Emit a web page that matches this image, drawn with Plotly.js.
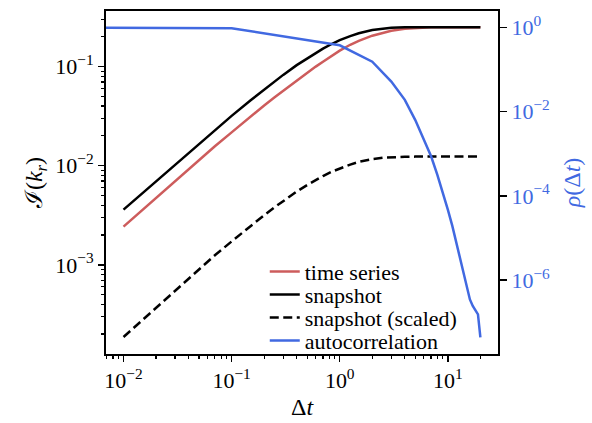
<!DOCTYPE html>
<html>
<head>
<meta charset="utf-8">
<script src="https://cdn.plot.ly/plotly-3.0.1.min.js"></script>
<style>html,body{margin:0;padding:0;background:#fff;}#chart{width:592px;height:423px;}</style>
</head>
<body>
<div id="chart"></div>
<script>
// Data
const dtSnap = [0.01, 0.015, 0.02, 0.03, 0.05, 0.07, 0.1, 0.15, 0.2, 0.25, 0.3, 0.4, 0.5, 0.6, 0.7, 0.85, 1, 1.25, 1.5, 2, 2.5, 3, 4, 5, 7, 10, 15, 20];
const timeSeries = [0.00243, 0.0036, 0.00475, 0.007, 0.0114, 0.0157, 0.0217, 0.0315, 0.0405, 0.049, 0.057, 0.072, 0.087, 0.1, 0.112, 0.129, 0.145, 0.166, 0.182, 0.205, 0.22, 0.23, 0.241, 0.246, 0.2495, 0.25, 0.25, 0.25];
const snapshot = [0.0036, 0.0053, 0.007, 0.0103, 0.0168, 0.023, 0.0318, 0.0458, 0.059, 0.0712, 0.0825, 0.1035, 0.1215, 0.1375, 0.152, 0.17, 0.185, 0.203, 0.217, 0.234, 0.2425, 0.246, 0.249, 0.2498, 0.25, 0.25, 0.25, 0.25];
const snapshotScaled = [0.000187, 0.000279, 0.00037, 0.00055, 0.00091, 0.00125, 0.00172, 0.00248, 0.00317, 0.00381, 0.0044, 0.00548, 0.00638, 0.00716, 0.00786, 0.00873, 0.00941, 0.01026, 0.01093, 0.01167, 0.01203, 0.0122, 0.01232, 0.01235, 0.01236, 0.01236, 0.01236, 0.01236];
const dtAuto = [0.001, 0.1, 1, 2, 3, 4, 5, 6, 7, 8, 9, 10, 11, 12, 13, 14, 15, 16, 17, 18, 19, 20];
const autocorr = [1, 0.95, 0.374, 0.153, 0.0514, 0.019, 6.3e-3, 2.24e-3, 8.7e-4, 3.16e-4, 1.2e-4, 4.7e-5, 1.95e-5, 7.8e-6, 3.1e-6, 1.48e-6, 6.8e-7, 3.5e-7, 2.45e-7, 1.9e-7, 1.55e-7, 4.4e-8];

const xTickVals = [0.01, 0.1, 1, 10];
const xTickText = ['10<sup>−2</sup>', '10<sup>−1</sup>', '10<sup>0</sup>', '10<sup>1</sup>'];
const yTickVals = [0.001, 0.01, 0.1];
const yTickText = ['10<sup>−3</sup>', '10<sup>−2</sup>', '10<sup>−1</sup>'];
const y2TickVals = [1, 0.01, 0.0001, 0.000001];
const y2TickText = ['10<sup>0</sup>', '10<sup>−2</sup>', '10<sup>−4</sup>', '10<sup>−6</sup>'];

function minorVals(eMin, eMax) {
  const out = [];
  for (let e = eMin; e <= eMax; e++) {
    for (let m = 2; m <= 9; m++) out.push(m * Math.pow(10, e));
  }
  return out;
}

const RED = '#cd5c5c';
const BLUE = '#4169e1';
const FONT = 'Liberation Serif';

const traces = [
  {x: dtSnap, y: timeSeries, name: 'time series', mode: 'lines', line: {color: RED, width: 2.5}, legend: 'legend'},
  {x: dtSnap, y: snapshot, name: 'snapshot', mode: 'lines', line: {color: 'black', width: 2.5}, legend: 'legend2'},
  {x: dtSnap, y: snapshotScaled, name: 'snapshot (scaled)', mode: 'lines', line: {color: 'black', width: 2.5, dash: '9px,4.5px'}, legend: 'legend3'},
  {x: dtAuto, y: autocorr, name: 'autocorrelation', mode: 'lines', line: {color: BLUE, width: 2.5}, yaxis: 'y2', legend: 'legend4'}
];

function leg(y) {
  return {x: 0.405, y: y, xanchor: 'left', yanchor: 'middle', bgcolor: 'rgba(0,0,0,0)', borderwidth: 0,
          font: {family: FONT, size: 22, color: 'black'}};
}

const layout = {
  width: 592, height: 423,
  margin: {l: 106, r: 94, t: 11, b: 69},
  paper_bgcolor: 'white', plot_bgcolor: 'white',
  font: {family: FONT, size: 22, color: 'black'},
  showlegend: true,
  legend: leg(0.240),
  legend2: leg(0.173),
  legend3: leg(0.106),
  legend4: leg(0.039),
  xaxis: {
    type: 'log', range: [-2.162, 1.464],
    tickmode: 'array', tickvals: xTickVals, ticktext: xTickText,
    ticks: 'outside', ticklen: 6, tickwidth: 1.5, tickcolor: 'black',
    minor: {tickvals: minorVals(-3, 1), ticks: 'outside', ticklen: 3, tickwidth: 1.2, tickcolor: 'black', showgrid: false},
    showline: true, linecolor: 'black', linewidth: 2, mirror: true,
    showgrid: false, zeroline: false,
    tickfont: {family: FONT, size: 22, color: 'black'},
    title: {text: 'Δ<i>t</i>', font: {family: FONT, size: 24, color: 'black'}, standoff: 6}
  },
  yaxis: {
    type: 'log', range: [-3.9, -0.439],
    tickmode: 'array', tickvals: yTickVals, ticktext: yTickText,
    ticks: 'outside', ticklen: 6, tickwidth: 1.5, tickcolor: 'black',
    minor: {tickvals: minorVals(-4, -1), ticks: 'outside', ticklen: 3, tickwidth: 1.2, tickcolor: 'black', showgrid: false},
    showline: true, linecolor: 'black', linewidth: 2,
    showgrid: false, zeroline: false,
    tickfont: {family: FONT, size: 22, color: 'black'},
    title: {text: 'ℐ(<i>k<sub>r</sub></i>)', font: {family: FONT, size: 24, color: 'black'}, standoff: 6}
  },
  yaxis2: {
    type: 'log', range: [-7.75, 0.386], overlaying: 'y', side: 'right',
    tickmode: 'array', tickvals: y2TickVals, ticktext: y2TickText,
    ticks: 'outside', ticklen: 7, tickwidth: 1.5, tickcolor: 'black',
    showline: true, linecolor: 'black', linewidth: 2,
    showgrid: false, zeroline: false,
    tickfont: {family: FONT, size: 22, color: BLUE},
    title: {text: '<i>ρ</i>(Δ<i>t</i>)', font: {family: FONT, size: 24, color: BLUE}, standoff: 14}
  }
};

Plotly.newPlot('chart', traces, layout, {displayModeBar: false, staticPlot: true});
</script>
</body>
</html>
